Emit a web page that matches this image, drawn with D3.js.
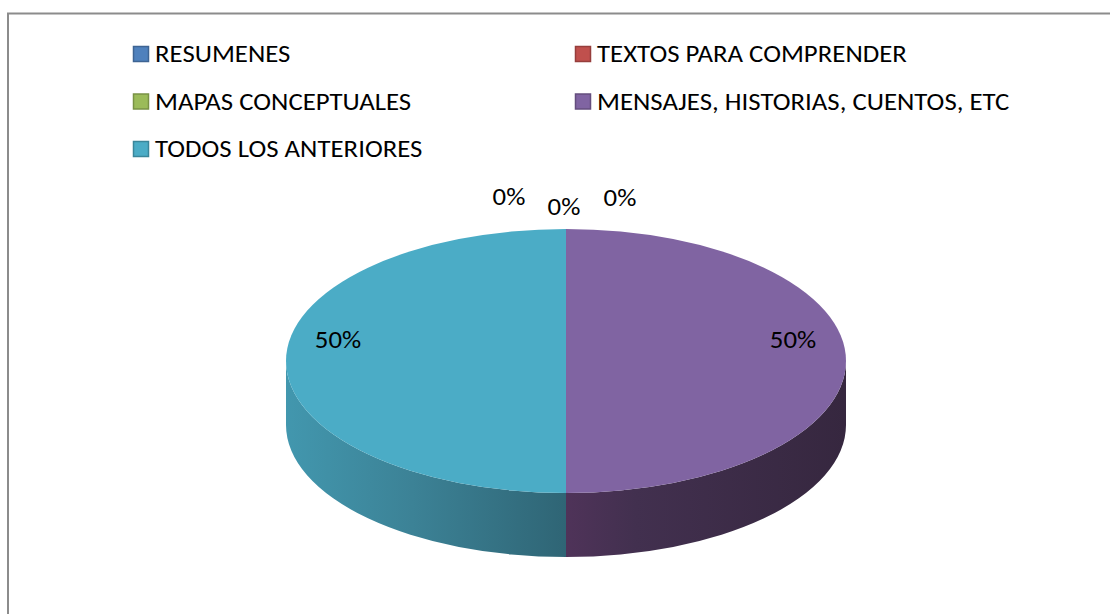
<!DOCTYPE html>
<html>
<head>
<meta charset="utf-8">
<script src="https://cdn.jsdelivr.net/npm/d3@7"></script>
<style>
  body { margin: 0; background: #fff; }
  text { font-family: Carlito, "Open Sans", "Liberation Sans", sans-serif; fill: #000; }
</style>
</head>
<body>
<div class="chart"></div>
<script>
const categories = ['RESUMENES', 'TEXTOS PARA COMPRENDER', 'MAPAS CONCEPTUALES', 'MENSAJES, HISTORIAS, CUENTOS, ETC', 'TODOS LOS ANTERIORES'];
const values = [0, 0, 0, 50, 50];
const colors = ['#4f81bd', '#c0504d', '#9bbb59', '#8064a2', '#4bacc6'];

const width = 1110, height = 614;
const fontSize = 24.5, stretch = 1.095; // the source picture is wider than it is tall

const svg = d3.select('.chart').append('svg')
    .attr('width', width)
    .attr('height', height)
    .style('display', 'block');

// chart frame, cut off by the picture on the right and at the bottom
svg.append('path')
    .attr('d', `M8,${height}V13.5H${width}`)
    .attr('fill', 'none')
    .attr('stroke', '#8c8c8c')
    .attr('stroke-width', 2);

// legend
const legendX = d3.scalePoint().domain([0, 1]).range([133, 575]);
const legendY = d3.scalePoint().domain([0, 1, 2]).range([54, 149]);
const legend = svg.selectAll('.legend')
    .data(categories)
    .enter()
    .append('g')
    .attr('class', 'legend')
    .attr('transform', (d, i) => `translate(${legendX(i % 2)},${legendY(Math.floor(i / 2))})`);
legend.append('rect')
    .attr('x', 0.5)
    .attr('y', -7.5)
    .attr('width', 15)
    .attr('height', 15)
    .attr('fill', (d, i) => colors[i])
    .attr('stroke', (d, i) => d3.color(colors[i]).darker(0.7))
    .attr('stroke-width', 1.5);
legend.append('text')
    .attr('transform', `translate(22,8) scale(${stretch},1)`)
    .attr('font-size', fontSize)
    .text(d => d);

// pie
const cx = 566, cy = 361, rx = 280, ry = 132, depth = 64;
const pie = d3.pie().sort(null).value(d => d)(values);

const defs = svg.append('defs');
const sideStops = [
    ['side-4', [[0, '#4297ae'], [0.45, '#3c8296'], [1, '#2f6575']]],
    ['side-3', [[0, '#4f3359'], [0.25, '#42304f'], [1, '#36273f']]]
];
sideStops.forEach(([id, stops]) => {
    const g = defs.append('linearGradient').attr('id', id);
    g.selectAll('stop').data(stops).enter().append('stop')
        .attr('offset', d => d[0])
        .attr('stop-color', d => d[1]);
});

const px = a => cx + rx * Math.sin(a);
const py = a => cy - ry * Math.cos(a);

// the wall is the lower half of the rim pushed down by depth
const wallPath = (a0, a1) => {
    const start = Math.max(a0, Math.PI / 2);
    const end = Math.min(a1, Math.PI * 1.5);
    const sweepBack = `A${rx},${ry} 0 0 0 ${px(start)},${py(start) + depth}`;
    return `M${px(start)},${py(start)}A${rx},${ry} 0 0 1 ${px(end)},${py(end)}` +
        `V${py(end) + depth}${sweepBack}Z`;
};

const slices = svg.append('g');
slices.append('path')
    .attr('d', wallPath(pie[4].startAngle, pie[4].endAngle))
    .attr('fill', 'url(#side-4)');
slices.append('path')
    .attr('d', wallPath(pie[3].startAngle, pie[3].endAngle))
    .attr('fill', 'url(#side-3)');

const arc = d3.arc().innerRadius(0).outerRadius(1);
slices.selectAll('.top')
    .data(pie)
    .enter()
    .append('path')
    .attr('class', 'top')
    .attr('transform', `translate(${cx},${cy}) scale(${rx},${ry})`)
    .attr('d', arc)
    .attr('fill', (d, i) => colors[i]);

// labels, nudged apart the way the spreadsheet does it
const labelAt = [[509, 205], [564, 215], [620, 206], [793, 348], [338, 348]];
svg.selectAll('.pct')
    .data(pie)
    .enter()
    .append('text')
    .attr('class', 'pct')
    .attr('transform', (d, i) => `translate(${labelAt[i][0]},${labelAt[i][1]}) scale(${stretch},1)`)
    .attr('text-anchor', 'middle')
    .attr('font-size', fontSize)
    .text(d => d3.format('.0%')(d.value / d3.sum(values)));
</script>
</body>
</html>
